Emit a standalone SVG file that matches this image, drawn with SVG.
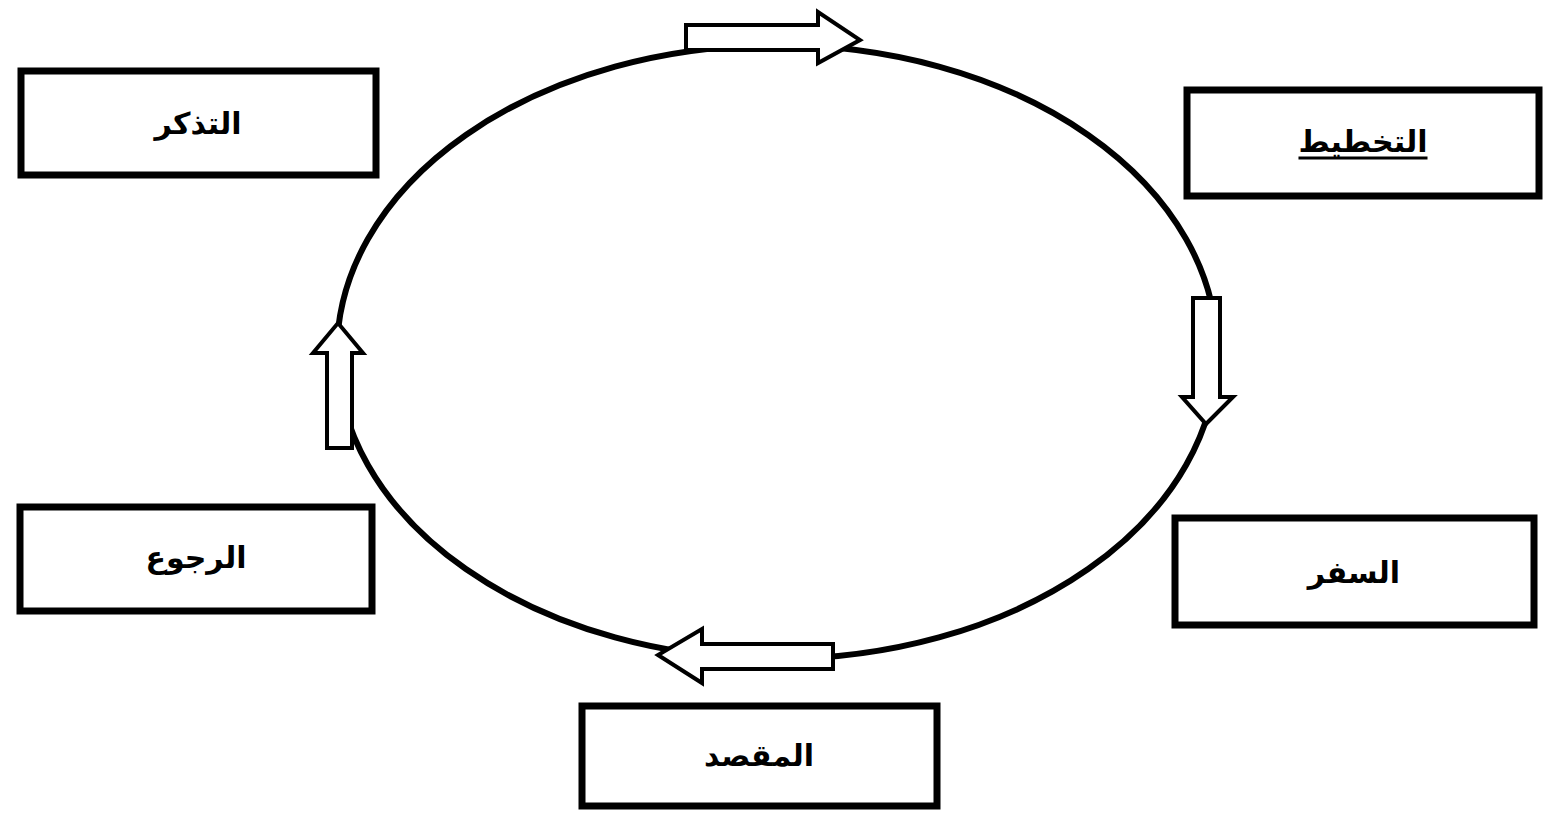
<svg xmlns="http://www.w3.org/2000/svg" width="1553" height="816" viewBox="0 0 1553 816">
<style>
.box{fill:#fff;stroke:#000;stroke-width:7}
.lbl{font-family:"DejaVu Sans","Noto Sans",sans-serif;font-weight:bold;font-size:30px;fill:#000;text-anchor:middle;dominant-baseline:central}
.arr{fill:#fff;stroke:#000;stroke-width:4;stroke-linejoin:miter}
.ring{fill:none;stroke:#000;stroke-width:6}
</style>
<rect width="1553" height="816" fill="#fff"/>
<g id="connectors">
<ellipse class="ring" cx="777" cy="352" rx="440" ry="307"/>
<polygon class="arr" points="686,25 818,25 818,12 860,40 818,63 818,50 686,50"/>
<polygon class="arr" points="1193,298 1220,298 1220,397 1233,397 1206,424 1182,397 1193,397"/>
<polygon class="arr" points="833,644 702,644 702,629 658,655 702,683 702,669 833,669"/>
<polygon class="arr" points="327,448 327,353 313,353 338,323 363,353 352,353 352,448"/>
</g>
<g id="node-tathakkur">
<rect class="box" x="21" y="71" width="355" height="104"/>
<text class="lbl" x="198" y="123" direction="rtl">التذكر</text>
</g>
<g id="node-takhtit">
<rect class="box" x="1187" y="90" width="352" height="106"/>
<text class="lbl" x="1363" y="141" direction="rtl" text-decoration="underline">التخطيط</text>
</g>
<g id="node-safar">
<rect class="box" x="1175" y="518" width="359" height="107"/>
<text class="lbl" x="1354" y="572" direction="rtl">السفر</text>
</g>
<g id="node-maqsad">
<rect class="box" x="582" y="706" width="355" height="100"/>
<text class="lbl" x="759" y="755" direction="rtl">المقصد</text>
</g>
<g id="node-rujoo">
<rect class="box" x="20" y="507" width="352" height="104"/>
<text class="lbl" x="196" y="557" direction="rtl">الرجوع</text>
</g>
</svg>
